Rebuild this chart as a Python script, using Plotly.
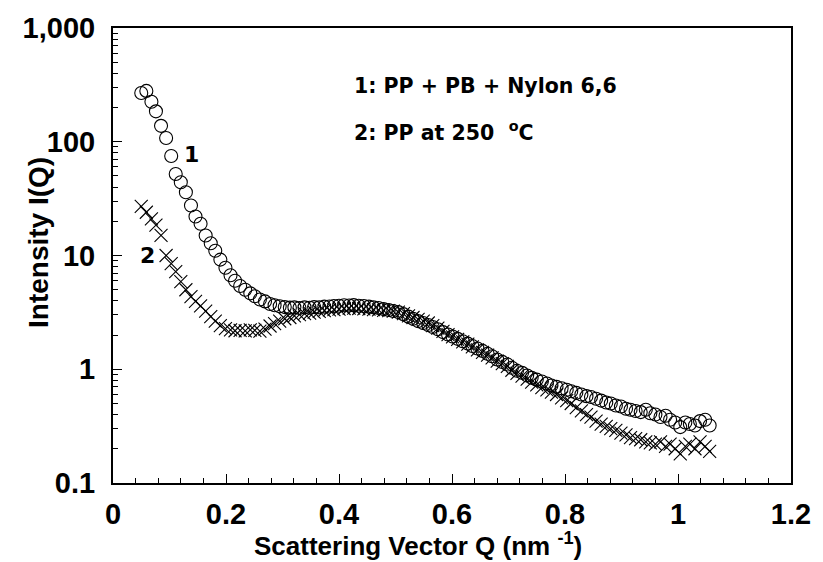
import plotly.graph_objects as go

# Scattering vector grid (nm^-1)
q = [0.050, 0.059, 0.068, 0.076, 0.085, 0.094, 0.103, 0.111, 0.120, 0.129,
     0.138, 0.146, 0.155, 0.164, 0.173, 0.181, 0.190, 0.199, 0.208, 0.216,
     0.225, 0.234, 0.243, 0.251, 0.260, 0.269, 0.278, 0.286, 0.295, 0.304,
     0.313, 0.321, 0.330, 0.339, 0.348, 0.356, 0.365, 0.374, 0.383, 0.391,
     0.400, 0.409, 0.418, 0.426, 0.435, 0.444, 0.453, 0.461, 0.470, 0.479,
     0.488, 0.496, 0.505, 0.514, 0.523, 0.531, 0.540, 0.549, 0.558, 0.566,
     0.575, 0.584, 0.593, 0.601, 0.610, 0.619, 0.628, 0.636, 0.645, 0.654,
     0.663, 0.671, 0.680, 0.689, 0.698, 0.706, 0.715, 0.724, 0.733, 0.741,
     0.750, 0.759, 0.768, 0.776, 0.785, 0.794, 0.803, 0.811, 0.820, 0.829,
     0.838, 0.846, 0.855, 0.864, 0.873, 0.881, 0.890, 0.899, 0.908, 0.916,
     0.925, 0.934, 0.943, 0.951, 0.960, 0.969, 0.978, 0.986, 0.995, 1.004,
     1.013, 1.021, 1.030, 1.039, 1.048, 1.056]

# Curve 1: PP + PB + Nylon 6,6 (open circles)
i_blend = [268, 280, 225, 185, 138, 108, 75, 52, 44, 36,
           27.5, 22, 19, 15, 12.8, 11, 9.2, 7.8, 6.7, 6.0,
           5.4, 5.0, 4.65, 4.38, 4.1, 3.95, 3.75, 3.65, 3.58, 3.52,
           3.48, 3.5, 3.46, 3.5, 3.47, 3.52, 3.5, 3.55, 3.56, 3.6,
           3.62, 3.65, 3.63, 3.66, 3.62, 3.6, 3.55, 3.5, 3.45, 3.38,
           3.32, 3.25, 3.18, 3.05, 2.9, 2.78, 2.65, 2.55, 2.45, 2.35,
           2.25, 2.12, 2.02, 1.94, 1.85, 1.76, 1.68, 1.6, 1.52, 1.45,
           1.37, 1.3, 1.22, 1.16, 1.1, 1.03, 0.97, 0.93, 0.88, 0.84,
           0.81, 0.78, 0.75, 0.72, 0.70, 0.68, 0.66, 0.64, 0.62, 0.6,
           0.58, 0.57, 0.55, 0.53, 0.51, 0.5, 0.48, 0.47, 0.45, 0.44,
           0.43, 0.42, 0.44, 0.41, 0.4, 0.38, 0.39, 0.36, 0.34, 0.31,
           0.34, 0.33, 0.32, 0.35, 0.36, 0.32]

# Curve 2: PP at 250 oC (crosses)
i_pp = [27, 24, 21, 18.5, 15, 10, 8.5, 7.2, 5.9, 5.0,
        4.35, 3.95, 3.6, 3.25, 2.9, 2.65, 2.42, 2.28, 2.22, 2.18,
        2.2, 2.17, 2.22, 2.2, 2.16, 2.25, 2.4, 2.52, 2.65, 2.78,
        2.85, 2.95, 3.02, 3.08, 3.12, 3.18, 3.22, 3.27, 3.32, 3.35,
        3.38, 3.42, 3.44, 3.45, 3.42, 3.4, 3.38, 3.35, 3.33, 3.3,
        3.27, 3.24, 3.18, 3.08, 2.95, 2.85, 2.75, 2.65, 2.55, 2.42,
        2.3, 2.15, 2.02, 1.93, 1.83, 1.74, 1.66, 1.57, 1.48, 1.41,
        1.33, 1.26, 1.18, 1.12, 1.06, 0.98, 0.92, 0.87, 0.82, 0.77,
        0.73, 0.69, 0.66, 0.63, 0.6, 0.56, 0.53, 0.5, 0.46, 0.43,
        0.4, 0.38, 0.35, 0.33, 0.315, 0.3, 0.29, 0.275, 0.265, 0.25,
        0.245, 0.24, 0.23, 0.225, 0.22, 0.23, 0.21, 0.22, 0.2, 0.18,
        0.21, 0.22, 0.2, 0.23, 0.21, 0.19]

y_tickvals = [0.1, 1, 10, 100, 1000]
y_ticktext = ["0.1", "1", "10", "100", "1,000"]
y_minor = [m * 10 ** k for k in range(-1, 3) for m in range(2, 10)]
x_tickvals = [0, 0.2, 0.4, 0.6, 0.8, 1.0, 1.2]
x_ticktext = ["0", "0.2", "0.4", "0.6", "0.8", "1", "1.2"]

tickfont = dict(family="Liberation Sans", size=29, color="black", weight="bold")
labfont = dict(family="DejaVu Sans", size=20.5, color="black", weight="bold")

fig = go.Figure()
fig.add_trace(go.Scatter(
    x=q, y=i_blend, mode="markers", name="1",
    marker=dict(symbol="circle-open", size=13, color="black", line=dict(width=1.1, color="black")),
))
fig.add_trace(go.Scatter(
    x=q, y=i_pp, mode="markers", name="2",
    marker=dict(symbol="x-thin", size=13, color="black", line=dict(width=1.1, color="black")),
))

fig.update_layout(
    width=823, height=562,
    margin=dict(l=113, r=24, t=24, b=79),
    paper_bgcolor="white", plot_bgcolor="white",
    showlegend=False,
    xaxis=dict(
        range=[0, 1.2], tickmode="array", tickvals=x_tickvals, ticktext=x_ticktext,
        ticks="inside", ticklen=9, tickwidth=1.2, tickcolor="black",
        minor=dict(dtick=0.04, ticks="inside", ticklen=5, tickwidth=1, tickcolor="black"),
        showline=True, linewidth=2, linecolor="black", mirror=True,
        showgrid=False, zeroline=False, tickfont=tickfont, ticklabelstandoff=4,
    ),
    yaxis=dict(
        type="log", range=[-1, 3], tickmode="array", tickvals=y_tickvals, ticktext=y_ticktext,
        ticks="inside", ticklen=9, tickwidth=1.2, tickcolor="black",
        minor=dict(tickmode="array", tickvals=y_minor, ticks="inside", ticklen=5, tickwidth=1, tickcolor="black"),
        showline=True, linewidth=2, linecolor="black", mirror=True,
        showgrid=False, zeroline=False, tickfont=tickfont, ticklabelstandoff=10,
    ),
    annotations=[
        dict(text="Scattering Vector Q (nm <sup>-1</sup>)", xref="paper", yref="paper",
             x=(422 - 113) / 686, y=(483 - 545) / 459, xanchor="center", yanchor="middle", showarrow=False,
             font=dict(family="Liberation Sans", size=26, color="black", weight="bold")),
        dict(text="Intensity I(Q)", xref="paper", yref="paper", textangle=-90,
             x=(37 - 113) / 686, y=(483 - 240) / 459, xanchor="center", yanchor="middle", showarrow=False,
             font=dict(family="Liberation Sans", size=28, color="black", weight="bold")),
        dict(text="1: PP + PB + Nylon 6,6", xref="paper", yref="paper",
             x=(355 - 113) / 686, y=(483 - 83) / 459, xanchor="left", yanchor="middle",
             showarrow=False, font=labfont),
        dict(text="2: PP at 250\u00a0\u00a0<sup>o</sup>C", xref="paper", yref="paper",
             x=(355 - 113) / 686, y=(483 - 128) / 459, xanchor="left", yanchor="middle",
             showarrow=False, font=labfont),
        dict(text="1", xref="paper", yref="paper",
             x=(192 - 113) / 686, y=(483 - 152) / 459, xanchor="center", yanchor="middle",
             showarrow=False, font=dict(family="DejaVu Sans", size=22, color="black", weight="bold")),
        dict(text="2", xref="paper", yref="paper",
             x=(148 - 113) / 686, y=(483 - 254) / 459, xanchor="center", yanchor="middle",
             showarrow=False, font=dict(family="DejaVu Sans", size=22, color="black", weight="bold")),
    ],
)

fig.write_html("out.html")
